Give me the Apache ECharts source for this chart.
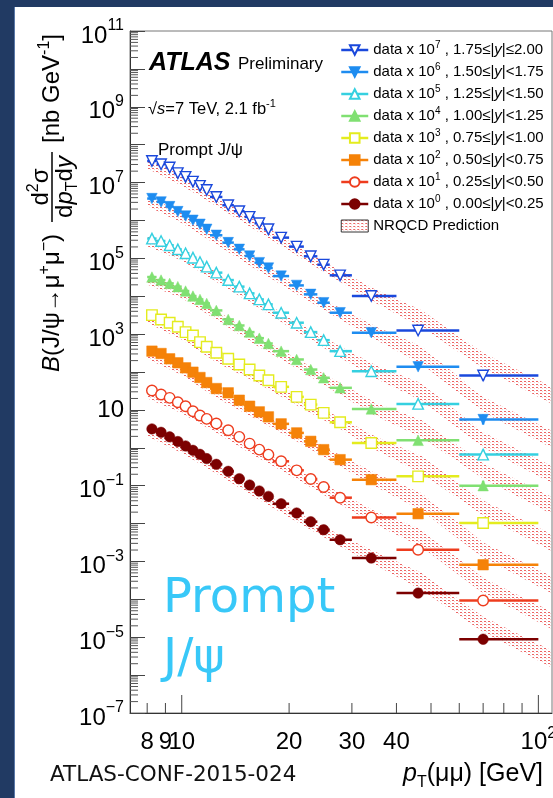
<!DOCTYPE html>
<html><head><meta charset="utf-8">
<script src="https://cdn.jsdelivr.net/npm/echarts@6.0.0/dist/echarts.min.js"></script>
<style>
html,body{margin:0;padding:0;background:#213a63;overflow:hidden;}
#bg{position:absolute;left:15px;top:7px;width:538px;height:791px;background:#fff;box-shadow:-1px 0 0 #5a78a8;}
#chart{position:absolute;left:0;top:0;width:553px;height:798px;}
</style></head><body>
<div id="bg"></div><div id="chart"></div>
<script>
// ---------------- data ----------------
const binLo = [8,8.5,9,9.5,10,10.5,11,11.5,12,13,14,15,16,17,18,20,22,24,26,30,40,60];
const binHi = [8.5,9,9.5,10,10.5,11,11.5,12,13,14,15,16,17,18,20,22,24,26,30,40,60,100];
const ptMean = [8.25,8.75,9.25,9.75,10.25,10.75,11.25,11.75,12.5,13.5,14.5,15.5,16.5,17.5,19,21,23,25,27.8,34,46,70];
const relErr = [0.03,0.03,0.03,0.03,0.03,0.03,0.03,0.03,0.03,0.03,0.03,0.03,0.03,0.03,0.03,0.04,0.04,0.05,0.06,0.08,0.15,0.35];

// plotted values (data x 10^k)
const y175_200 = [3.7e7,3.05e7,2.49e7,1.77e7,1.41e7,1.06e7,8.15e6,6.38e6,4.17e6,2.52e6,1.75e6,1.24e6,8.41e5,5.83e5,3.52e5,2.04e5,1.13e5,6.81e4,3.56e4,1.01e4,1.25e3,80.7];
const y150_175 = [3.78e6,3.08e6,2.32e6,1.71e6,1.31e6,1.01e6,7.92e5,5.83e5,4.06e5,2.60e5,1.73e5,1.15e5,7.69e4,5.55e4,3.40e4,1.93e4,1.12e4,6.75e3,3.67e3,1.09e3,137,5.55];
const y125_150 = [3.32e5,2.87e5,2.21e5,1.73e5,1.36e5,1.04e5,7.98e4,6.04e4,4.19e4,2.67e4,1.79e4,1.19e4,8.24e3,6.08e3,3.67e3,2.0e3,1.13e3,692,355,105,14.4,0.66];
const y100_125 = [3.21e4,2.67e4,2.18e4,1.79e4,1.37e4,1.01e4,8.24e3,6.46e3,4.22e3,2.44e3,1.69e3,1.13e3,782,566,355,214,116,70.3,38.2,10.6,1.57,0.1];
const y075_100 = [3.17e3,2.44e3,2.0e3,1.57e3,1.13e3,923,614,463,321,223,158,116,80.7,60.7,40.6,22.1,13.8,8.34,4.71,1.34,0.176,0.0103];
const y050_075 = [355,308,223,175,129,98.8,71.6,52.7,36.6,28.2,18.0,12.5,8.87,6.55,4.28,2.47,1.48,0.893,0.486,0.144,0.0182,8.17e-4];
const y025_050 = [32.4,25.4,20.8,15.9,12.5,9.2,7.08,5.79,4.36,2.90,1.94,1.29,0.893,0.659,0.439,0.254,0.150,0.0923,0.0482,0.0145,2.03e-3,9.29e-5];
const y000_025 = [3.15,2.56,1.94,1.46,1.12,0.857,0.671,0.518,0.366,0.239,0.153,0.104,0.0724,0.0521,0.0334,0.019,0.0112,6.87e-3,3.74e-3,1.23e-3,1.46e-4,8.87e-6];

// NRQCD prediction bands (plotted scale), at these pT nodes
const bandPt = [8,10,12.5,16,21,28,35,47,70,109];
const nrqcdLo175 = [2.34e7,8.32e6,2.40e6,5.75e5,1.20e5,2.29e4,6.61e3,1.51e3,126,14.5];
const nrqcdHi175 = [4.47e7,1.51e7,4.27e6,1.02e6,2.14e5,4.57e4,1.48e4,4.27e3,316,40.7];
const nrqcdLo150 = [2.40e6,8.51e5,2.32e5,5.37e4,1.15e4,2.34e3,708,166,8.71,1.0];
const nrqcdHi150 = [4.57e6,1.55e6,4.12e5,9.55e4,2.04e4,4.68e3,1.58e3,468,21.9,2.82];
const nrqcdLo125 = [2.09e5,8.71e4,2.40e4,5.75e3,1.17e3,229,67.6,17.8,1.02,0.117];
const nrqcdHi125 = [3.98e5,1.58e5,4.27e4,1.02e4,2.09e3,457,151,50.1,2.57,0.331];
const nrqcdLo100 = [2.04e4,8.91e3,2.40e3,537,126,24.5,6.92,1.91,0.155,0.0178];
const nrqcdHi100 = [3.89e4,1.62e4,4.27e3,955,224,49.0,15.5,5.37,0.389,0.0501];
const nrqcdLo075 = [2.0e3,724,182,56.2,13.2,3.02,0.871,0.214,0.0162,1.86e-3];
const nrqcdHi075 = [3.80e3,1.32e3,324,100,23.4,6.03,1.95,0.603,0.0407,5.25e-3];
const nrqcdLo050 = [224,83.2,20.9,6.03,1.48,0.309,0.0933,0.0224,1.26e-3,1.45e-4];
const nrqcdHi050 = [427,151,37.2,10.7,2.63,0.617,0.209,0.0631,3.16e-3,4.07e-4];
const nrqcdLo025 = [20.4,8.13,2.51,0.617,0.151,0.0309,9.33e-3,2.45e-3,1.45e-4,1.66e-5];
const nrqcdHi025 = [38.9,14.8,4.47,1.10,0.269,0.0617,0.0209,6.92e-3,3.63e-4,4.68e-5];
const nrqcdLo000 = [2.0,0.724,0.209,0.0501,0.0112,2.40e-3,7.94e-4,1.78e-4,1.38e-5,1.58e-6];
const nrqcdHi000 = [3.80,1.32,0.372,0.0891,0.020,4.79e-3,1.78e-3,5.01e-4,3.47e-5,4.47e-6];

const seriesNames = ['d7','d6','d5','d4','d3','d2','d1','d0'];
const legendLabels = [
  'data x 10{sup|7} , 1.75≤|{i|y}|≤2.00',
  'data x 10{sup|6} , 1.50≤|{i|y}|<1.75',
  'data x 10{sup|5} , 1.25≤|{i|y}|<1.50',
  'data x 10{sup|4} , 1.00≤|{i|y}|<1.25',
  'data x 10{sup|3} , 0.75≤|{i|y}|<1.00',
  'data x 10{sup|2} , 0.50≤|{i|y}|<0.75',
  'data x 10{sup|1} , 0.25≤|{i|y}|<0.50',
  'data x 10{sup|0} , 0.00≤|{i|y}|<0.25'
];
const xTickVals = [8,9,10,20,30,40,50,60,70,80,90,100];
const xTickMajor = [10,100];
const xLabelVals = [8,9,10,20,30,40,100];
const xLabelText = ['8','9','10','20','30','40','10{s|2}'];

// ---------------- style ----------------
const F = '"Liberation Sans", Arial, Helvetica, sans-serif';
const colors = ['#1a48dc','#1e8cf0','#35d0e0','#80e072','#e4ec1e','#f58208','#ee3c1e','#7c0000'];
const hollow = [true,false,true,false,true,false,true,false];
const DOWN = 'path://M0,0L10,0L5,9Z';
const symbols = [DOWN, DOWN, 'triangle','triangle','rect','rect','circle','circle'];
const values = [y175_200,y150_175,y125_150,y100_125,y075_100,y050_075,y025_050,y000_025];
const bandsLo = [nrqcdLo175,nrqcdLo150,nrqcdLo125,nrqcdLo100,nrqcdLo075,nrqcdLo050,nrqcdLo025,nrqcdLo000];
const bandsHi = [nrqcdHi175,nrqcdHi150,nrqcdHi125,nrqcdHi100,nrqcdHi075,nrqcdHi050,nrqcdHi025,nrqcdHi000];
const xMin = 7.16, xMax = 109.2, yMin = 1e-7, yMax = 1e11;

// dotted red hatch pattern
const pc = document.createElement('canvas'); pc.width = 4; pc.height = 3;
const g = pc.getContext('2d');
g.fillStyle = 'rgba(230,50,50,0.75)'; g.fillRect(0,0,2,1);
g.fillStyle = 'rgba(240,150,150,0.45)'; g.fillRect(2,1,1,1);
const hatch = {image: pc, repeat: 'repeat'};

const yMinor = [];
for (let n = -7; n < 11; n++) for (let m = 2; m <= 9; m++) yMinor.push(m * Math.pow(10, n));

const series = [];
series.push({
  name: 'NRQCD Prediction', type: 'custom', z: 1,
  itemStyle: {color: hatch, borderColor: '#333', borderWidth: 1},
  data: bandsLo.map((b, k) => [bandPt[0], bandsHi[k][0], k]),
  encode: {x: 0, y: 1},
  renderItem: (params, api) => {
    const k = api.value(2);
    const pts = [];
    for (let i = 0; i < bandPt.length; i++) pts.push(api.coord([bandPt[i], bandsHi[k][i]]));
    for (let i = bandPt.length - 1; i >= 0; i--) pts.push(api.coord([bandPt[i], bandsLo[k][i]]));
    return {type: 'polygon', shape: {points: pts}, style: {fill: hatch}};
  }
});
values.forEach((vals, k) => {
  const col = colors[k];
  series.push({
    name: seriesNames[k] + '_err', type: 'custom', z: 2,
    data: vals.map((v, i) => [ptMean[i], v, binLo[i], binHi[i], v / (1 + relErr[i]), v * (1 + relErr[i])]),
    encode: {x: 0, y: 1},
    renderItem: (params, api) => {
      const a = api.coord([api.value(2), api.value(1)]);
      const b = api.coord([api.value(3), api.value(1)]);
      const c = api.coord([api.value(0), api.value(4)]);
      const d = api.coord([api.value(0), api.value(5)]);
      return {type: 'group', children: [
        {type: 'line', shape: {x1: a[0], y1: a[1], x2: b[0], y2: b[1]}, style: {stroke: col, lineWidth: 2.5}},
        {type: 'line', shape: {x1: c[0], y1: c[1], x2: d[0], y2: d[1]}, style: {stroke: col, lineWidth: 2.5}}
      ]};
    }
  });
  series.push({
    name: seriesNames[k], type: 'line', z: 3,
    data: vals.map((v, i) => [ptMean[i], v]),
    symbol: symbols[k], symbolSize: 10.5, showSymbol: true,
    lineStyle: {color: col, width: 2.5, opacity: 0},
    itemStyle: hollow[k] ? {color: '#fff', borderColor: col, borderWidth: 1.4} : {color: col, borderColor: col, borderWidth: 0.5},
    emphasis: {disabled: true},
    animation: false
  });
});
series.push({
  type: 'custom', z: 4, silent: true,
  data: yMinor.map(v => [xMin, v]), encode: {x: 0, y: 1},
  renderItem: (params, api) => {
    const p = api.coord([api.value(0), api.value(1)]);
    return {type: 'line', shape: {x1: p[0], y1: p[1], x2: p[0] + 8, y2: p[1]}, style: {stroke: '#555', lineWidth: 1}};
  }
});
series.push({
  type: 'custom', z: 4, silent: true,
  data: xTickVals.map(v => [v, yMin]), encode: {x: 0, y: 1},
  renderItem: (params, api) => {
    const v = api.value(0);
    const p = api.coord([v, api.value(1)]);
    const len = xTickMajor.indexOf(v) >= 0 ? 18 : 10;
    return {type: 'line', shape: {x1: p[0], y1: p[1], x2: p[0], y2: p[1] - len}, style: {stroke: '#444', lineWidth: 1}};
  }
});
series.push({
  type: 'custom', z: 4, silent: true,
  data: xLabelVals.map((v, i) => [v, yMin, i]), encode: {x: 0, y: 1},
  renderItem: (params, api) => {
    const p = api.coord([api.value(0), api.value(1)]);
    const txt = xLabelText[api.value(2)];
    return {type: 'text', x: p[0], y: p[1] + 29, style: {
      text: txt, font: '24px ' + F, fill: '#000', align: 'center', verticalAlign: 'middle',
      rich: {s: {fontSize: 16, fontFamily: F, padding: [0, 0, 16, 0]}}
    }};
  }
});

const legendData = seriesNames.map(n => ({name: n}));
legendData.push({name: 'NRQCD Prediction', icon: 'rect', itemStyle: {color: hatch, borderColor: '#333', borderWidth: 1}});

const option = {
  animation: false,
  backgroundColor: 'transparent',
  grid: {left: 130, top: 31, width: 422, height: 682, show: true, borderColor: '#777', borderWidth: 1, backgroundColor: 'transparent'},
  xAxis: {type: 'log', min: xMin, max: xMax, axisLine: {show: true, lineStyle: {color: '#333', width: 1}},
    axisTick: {show: false}, axisLabel: {show: false}, splitLine: {show: false}},
  yAxis: {type: 'log', min: yMin, max: yMax, interval: 1,
    axisLine: {show: true, lineStyle: {color: '#333', width: 1}},
    axisTick: {show: true, inside: true, length: 15, lineStyle: {color: '#444'}},
    splitLine: {show: false},
    axisLabel: {margin: 6, color: '#000', fontFamily: F, fontSize: 24,
      formatter: (v) => {
        const e = Math.round(Math.log10(v));
        if (Math.abs(e % 2) !== 1) return '';
        if (e === 1) return '{p|10}';
        return '{b|10}{s|' + (e < 0 ? '−' + (-e) : e) + '}';
      },
      rich: {
        p: {fontSize: 24, fontFamily: F},
        b: {fontSize: 24, fontFamily: F, padding: [10, 0, 0, 0]},
        s: {fontSize: 16, fontFamily: F, padding: [0, 0, 10, 0]}
      }
    }
  },
  legend: {
    orient: 'vertical', left: 335, top: 35, itemWidth: 27, itemHeight: 12, itemGap: 2,
    data: legendData,
    lineStyle: {width: 2.5, opacity: 1},
    textStyle: {fontFamily: F, fontSize: 15, color: '#000', lineHeight: 20,
      rich: {
        sup: {fontSize: 10, fontFamily: F, lineHeight: 10, padding: [0, 0, 10, 0]},
        i: {fontSize: 15, fontFamily: F, fontStyle: 'italic'}
      }},
    formatter: (name) => {
      const k = seriesNames.indexOf(name);
      return k >= 0 ? legendLabels[k] : name;
    },
    selectedMode: false
  },
  series: series,
  graphic: [
    {type: 'text', x: 149, y: 63, style: {text: 'ATLAS', font: 'italic bold 25px ' + F, fill: '#000', verticalAlign: 'middle'}},
    {type: 'text', x: 238, y: 64, style: {text: 'Preliminary', font: '17px ' + F, fill: '#000', verticalAlign: 'middle'}},
    {type: 'text', x: 148, y: 109, style: {text: '√{i|s}=7 TeV, 2.1 fb{s|-1}', font: '16.5px ' + F, fill: '#000', verticalAlign: 'middle',
      rich: {i: {fontStyle: 'italic', fontSize: 16.5, fontFamily: F}, s: {fontSize: 11, fontFamily: F, padding: [0, 0, 10, 0]}}}},
    {type: 'text', x: 158, y: 150, style: {text: 'Prompt J/ψ', font: '17px ' + F, fill: '#000', verticalAlign: 'middle'}},
    {type: 'text', x: 163, y: 600, style: {text: 'Prompt', font: '48px "DejaVu Sans", sans-serif', fill: '#38c8f8', verticalAlign: 'middle'}},
    {type: 'text', x: 163, y: 660, style: {text: 'J/ψ', font: '48px "DejaVu Sans", sans-serif', fill: '#38c8f8', verticalAlign: 'middle'}},
    {type: 'text', x: 50, y: 775, style: {text: 'ATLAS-CONF-2015-024', font: '21.5px "DejaVu Sans", sans-serif', fill: '#111', verticalAlign: 'middle'}},
    {type: 'text', x: 403, y: 774, style: {text: '{i|p}{sub|T}(μμ) [GeV]', font: '25px ' + F, fill: '#000', verticalAlign: 'middle',
      rich: {i: {fontStyle: 'italic', fontSize: 25, fontFamily: F}, sub: {fontSize: 16, fontFamily: F, padding: [18, 0, 0, 0]}}}},
    {type: 'group', x: 52, y: 372, rotation: Math.PI / 2, children: [
      {type: 'text', x: 0, y: 0, style: {text: '{i|B}(J/ψ→μ{s|+}μ{s|−})', font: '24px ' + F, fill: '#000', verticalAlign: 'middle',
        rich: {i: {fontStyle: 'italic', fontSize: 24, fontFamily: F}, s: {fontSize: 16, fontFamily: F, padding: [0, 0, 14, 0]}}}},
      {type: 'line', shape: {x1: 150, y1: 0, x2: 220, y2: 0}, style: {stroke: '#000', lineWidth: 1.5}},
      {type: 'text', x: 185, y: -11, style: {text: 'd{s|2}σ', font: '24px ' + F, fill: '#000', align: 'center', verticalAlign: 'middle',
        rich: {s: {fontSize: 16, fontFamily: F, padding: [0, 0, 14, 0]}}}},
      {type: 'text', x: 185, y: 13, style: {text: 'd{i|p}{sub|T}d{i|y}', font: '24px ' + F, fill: '#000', align: 'center', verticalAlign: 'middle',
        rich: {i: {fontStyle: 'italic', fontSize: 24, fontFamily: F}, sub: {fontSize: 16, fontFamily: F, padding: [16, 0, 0, 0]}}}},
      {type: 'text', x: 229, y: 0, style: {text: '[nb GeV{s|-1}]', font: '24px ' + F, fill: '#000', verticalAlign: 'middle',
        rich: {s: {fontSize: 16, fontFamily: F, padding: [0, 0, 14, 0]}}}}
    ]}
  ]
};
const chart = echarts.init(document.getElementById('chart'), null, {renderer: 'canvas'});
chart.setOption(option);
</script></body></html>
